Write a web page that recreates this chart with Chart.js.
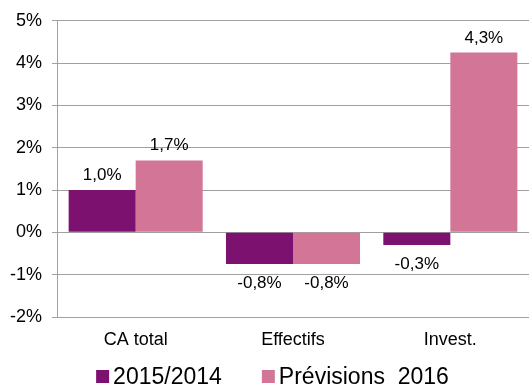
<!DOCTYPE html>
<html>
<head>
<meta charset="utf-8">
<script src="https://cdn.jsdelivr.net/npm/chart.js@4"></script>
<style>
  html, body { margin:0; padding:0; background:#fff; }
  #wrap { width:529px; height:385px; }
</style>
</head>
<body>
<div id="wrap"><canvas id="c" width="529" height="385"></canvas></div>
<script>
// données
const categories = ['CA total', 'Effectifs', 'Invest.'];
const seriesNames = ['2015/2014', 'Prévisions  2016'];
const vals2015 = [1.0, -0.75, -0.3];
const valsPrev = [1.7, -0.75, 4.25];
const yTicks = [-2, -1, 0, 1, 2, 3, 4, 5];

const PURPLE = '#7d1170';
const PINK = '#d27596';
const FONT = 'Liberation Sans, Arial, sans-serif';

function fmt(v){
  return v.toFixed(1).replace('.', ',') + '%';
}

// étiquettes de valeurs au bout des barres
const barLabels = {
  id: 'barLabels',
  afterDatasetsDraw(chart){
    const ctx = chart.ctx;
    ctx.save();
    ctx.font = '17px ' + FONT;
    ctx.fillStyle = '#000';
    ctx.textAlign = 'center';
    ctx.textBaseline = 'alphabetic';
    chart.data.datasets.forEach((ds, i) => {
      const meta = chart.getDatasetMeta(i);
      meta.data.forEach((bar, j) => {
        const v = ds.data[j];
        if (v >= 0) ctx.fillText(fmt(v), bar.x, bar.y - 10);
        else ctx.fillText(fmt(v), bar.x, bar.y + 24);
      });
    });
    ctx.restore();
  }
};

// légende dessinée à la main (carré collé au texte, comme Excel)
const bottomLegend = {
  id: 'bottomLegend',
  afterDraw(chart){
    const ctx = chart.ctx;
    ctx.save();
    ctx.font = '23px ' + FONT;
    ctx.textBaseline = 'alphabetic';
    ctx.textAlign = 'left';
    const colors = [PURPLE, PINK];
    const box = 13, gapTxt = 4, gapItem = 40;
    const widths = seriesNames.map(n => box + gapTxt + ctx.measureText(n).width);
    const total = widths.reduce((a, b) => a + b, 0) + gapItem * (widths.length - 1);
    let x = chart.width / 2 + 8 - total / 2;
    const base = 384;
    seriesNames.forEach((n, i) => {
      ctx.fillStyle = colors[i];
      ctx.fillRect(x, base - 14, box, box);
      ctx.fillStyle = '#000';
      ctx.fillText(n, x + box + gapTxt, base);
      x += widths[i] + gapItem;
    });
    ctx.restore();
  }
};

new Chart(document.getElementById('c').getContext('2d'), {
  type: 'bar',
  data: {
    labels: categories,
    datasets: [
      { label: seriesNames[0], data: vals2015, backgroundColor: PURPLE, borderWidth: 0 },
      { label: seriesNames[1], data: valsPrev, backgroundColor: PINK, borderWidth: 0 }
    ]
  },
  options: {
    responsive: false,
    animation: false,
    devicePixelRatio: 1,
    layout: { padding: { top: 11, right: 0, left: 0, bottom: 28 } },
    datasets: { bar: { barPercentage: 1, categoryPercentage: 0.852 } },
    plugins: {
      tooltip: { enabled: false },
      legend: { display: false }
    },
    scales: {
      x: {
        grid: { display: false, drawTicks: false },
        border: { display: false },
        ticks: { font: { family: FONT, size: 18 }, color: '#000', padding: 12 },
        afterFit(s){ s.height = 40; }
      },
      y: {
        min: -2, max: 5,
        afterBuildTicks(s){ s.ticks = yTicks.map(v => ({ value: v })); },
        grid: { color: '#a0a0a0', lineWidth: 1, tickLength: 5, drawTicks: true },
        border: { color: '#a0a0a0', width: 1 },
        ticks: {
          font: { family: FONT, size: 18 },
          color: '#000',
          padding: 10,
          callback: v => v + '%'
        },
        afterFit(s){ s.width = 57; }
      }
    }
  },
  plugins: [barLabels, bottomLegend]
});
</script>
</body>
</html>
